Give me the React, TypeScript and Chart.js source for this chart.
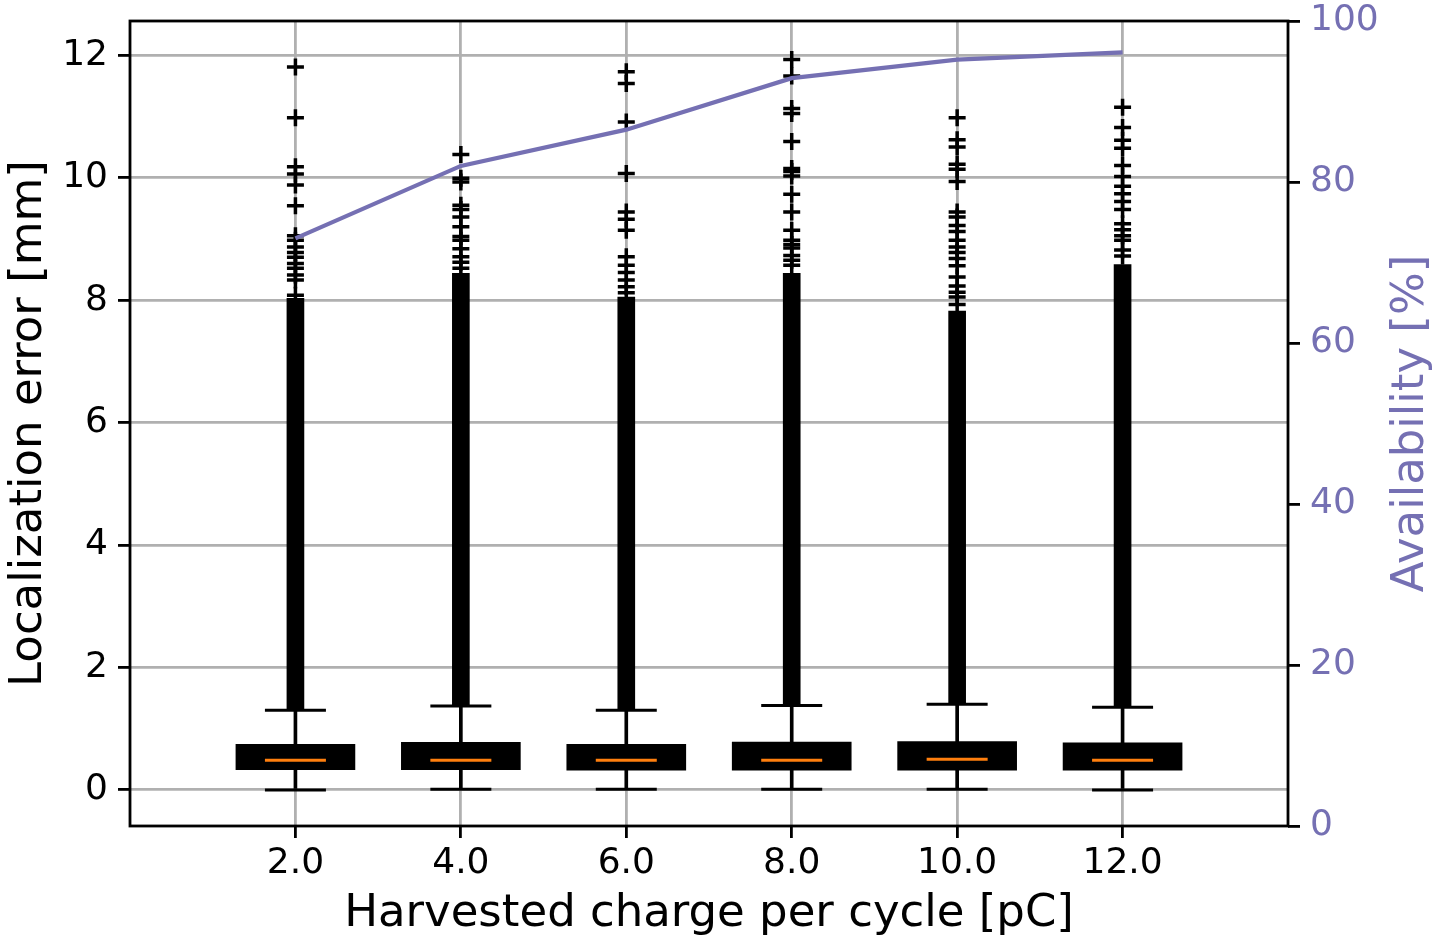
import { useEffect, useRef } from 'react';
import Chart from 'chart.js/auto';

// harvested charge per cycle [pC]
const charges = [2, 4, 6, 8, 10, 12];

// box plot stats, localization error [mm]
const whiskerLow = [0.0, 0.01, 0.01, 0.01, 0.01, 0.0];
const q1 = [0.33, 0.33, 0.32, 0.32, 0.32, 0.32];
const medians = [0.485, 0.485, 0.485, 0.485, 0.5, 0.485];
const q3 = [0.745, 0.775, 0.746, 0.78, 0.79, 0.77];
const whiskerHigh = [1.3, 1.37, 1.3, 1.38, 1.4, 1.35];

// outliers packed so tight they form a solid column
const denseOutlierTop = [8.03, 8.44, 8.05, 8.44, 7.82, 8.58];

// single outliers above the packed column
const outliers2 = [11.81, 10.98, 10.18, 10.06, 9.88, 9.54, 9.05, 8.98, 8.87, 8.78, 8.7, 8.6, 8.52, 8.41, 8.33, 8.08];
const outliers4 = [10.38, 9.99, 9.93, 9.55, 9.48, 9.36, 9.2, 9.04, 8.98, 8.84, 8.71, 8.62, 8.52];
const outliers6 = [11.73, 11.54, 10.91, 10.07, 9.44, 9.32, 9.14, 8.71, 8.57, 8.45, 8.33, 8.22, 8.12];
const outliers8 = [11.93, 11.66, 11.13, 11.05, 10.59, 10.15, 10.1, 10.03, 9.73, 9.44, 9.14, 8.98, 8.91, 8.85, 8.73, 8.65, 8.57];
const outliers10 = [10.98, 10.62, 10.5, 10.22, 10.14, 9.94, 9.44, 9.36, 9.22, 9.12, 8.98, 8.87, 8.78, 8.68, 8.56, 8.38, 8.23, 8.13, 8.05, 7.93];
const outliers12 = [11.15, 10.82, 10.61, 10.48, 10.2, 10.02, 9.86, 9.74, 9.61, 9.48, 9.25, 9.15, 9.05, 8.98, 8.82, 8.72];
const outliers = [outliers2, outliers4, outliers6, outliers8, outliers10, outliers12];

// availability [%]
const availability = [73.0, 82.0, 86.5, 92.9, 95.2, 96.1];

const xTicks = [2, 4, 6, 8, 10, 12];
const yTicks = [0, 2, 4, 6, 8, 10, 12];
const y1Ticks = [0, 20, 40, 60, 80, 100];

const PURPLE = '#7570b3';
const FONT = 'DejaVu Sans';
const LW = 2.8;
const RIGHT_TITLE = 'Availability [%]';

// axes frame + right axis title (chart.js would draw it rotated the other way)
const framePlugin = {
  id: 'frame',
  afterDraw(chart) {
    const { ctx, chartArea: a } = chart;
    ctx.save();
    ctx.strokeStyle = '#000';
    ctx.lineWidth = LW;
    ctx.strokeRect(a.left, a.top, a.right - a.left, a.bottom - a.top);
    ctx.translate(chart.width - 27, (a.top + a.bottom) / 2);
    ctx.rotate(-Math.PI / 2);
    ctx.font = `45px "${FONT}"`;
    ctx.fillStyle = PURPLE;
    ctx.textAlign = 'center';
    ctx.textBaseline = 'middle';
    ctx.fillText(RIGHT_TITLE, 0, 0);
    ctx.restore();
  },
};

const App = () => {
  const chartRef = useRef(null);
  const chartInstance = useRef(null);

  useEffect(() => {
    document.body.style.margin = '0';
    if (chartInstance.current) {
      chartInstance.current.destroy();
    }
    const ctx = chartRef.current.getContext('2d');

    const tickFont = { family: FONT, size: 36 };
    const yTickFont = { family: FONT, size: 36, lineHeight: 0.55 };
    const titleFont = { family: FONT, size: 45 };

    chartInstance.current = new Chart(ctx, {
      type: 'bar',
      data: {
        datasets: [
          {
            type: 'line',
            data: charges.map((c, i) => ({ x: c, y: availability[i] })),
            yAxisID: 'y1',
            borderColor: PURPLE,
            borderWidth: 4.2,
            pointRadius: 0,
            order: 0,
          },
          {
            type: 'scatter',
            data: charges.map((c, i) => ({ x: c, y: medians[i] })),
            yAxisID: 'y',
            pointStyle: 'line',
            pointRadius: 30.5,
            borderColor: '#ff7f0e',
            borderWidth: 3,
            order: 1,
          },
          {
            type: 'scatter',
            data: charges.flatMap((c, i) => outliers[i].map((v) => ({ x: c, y: v }))),
            yAxisID: 'y',
            pointStyle: 'cross',
            pointRadius: 8.5,
            borderColor: '#000',
            borderWidth: 3.5,
            order: 2,
          },
          {
            type: 'scatter',
            data: charges.flatMap((c, i) => [
              { x: c, y: whiskerLow[i] },
              { x: c, y: whiskerHigh[i] },
            ]),
            yAxisID: 'y',
            pointStyle: 'line',
            pointRadius: 30.5,
            borderColor: '#000',
            borderWidth: 3,
            order: 3,
          },
          {
            type: 'bar',
            data: charges.map((c, i) => ({ x: c, y: [whiskerHigh[i], denseOutlierTop[i]] })),
            yAxisID: 'y',
            backgroundColor: '#000',
            barThickness: 17,
            grouped: false,
            order: 4,
          },
          {
            type: 'bar',
            data: charges.map((c, i) => ({ x: c, y: [q1[i], q3[i]] })),
            yAxisID: 'y',
            backgroundColor: '#000',
            barThickness: 119,
            grouped: false,
            order: 5,
          },
          {
            type: 'bar',
            data: charges.map((c, i) => ({ x: c, y: [whiskerLow[i], whiskerHigh[i]] })),
            yAxisID: 'y',
            backgroundColor: '#000',
            barThickness: 3,
            grouped: false,
            order: 6,
          },
        ],
      },
      options: {
        responsive: true,
        maintainAspectRatio: false,
        animation: false,
        layout: { autoPadding: false, padding: { top: 21, left: 0, right: 0, bottom: 0 } },
        plugins: {
          legend: { display: false },
          tooltip: { enabled: false },
        },
        scales: {
          x: {
            type: 'linear',
            min: 0,
            max: 14,
            offset: false,
            afterBuildTicks: (axis) => {
              axis.ticks = xTicks.map((v) => ({ value: v }));
            },
            afterFit: (axis) => {
              axis.height = 115;
            },
            ticks: {
              font: tickFont,
              color: '#000',
              padding: 4,
              maxRotation: 0,
              callback: (v) => Number(v).toFixed(1),
            },
            grid: {
              offset: false,
              color: '#b0b0b0',
              lineWidth: LW,
              tickColor: '#000',
              tickLength: 12,
              tickWidth: LW,
            },
            border: { display: false },
            title: {
              display: true,
              text: 'Harvested charge per cycle [pC]',
              font: titleFont,
              color: '#000',
              padding: { top: 0, bottom: 0 },
            },
          },
          y: {
            type: 'linear',
            position: 'left',
            min: -0.59,
            max: 12.56,
            afterBuildTicks: (axis) => {
              axis.ticks = yTicks.map((v) => ({ value: v }));
            },
            afterFit: (axis) => {
              axis.width = 130;
            },
            ticks: {
              font: yTickFont,
              color: '#000',
              padding: 10,
              callback: (v) => String(v),
            },
            grid: {
              color: '#b0b0b0',
              lineWidth: LW,
              tickColor: '#000',
              tickLength: 12,
              tickWidth: LW,
            },
            border: { display: false },
            title: {
              display: true,
              text: 'Localization error [mm]',
              font: titleFont,
              color: '#000',
              padding: { top: 2, bottom: 0 },
            },
          },
          y1: {
            type: 'linear',
            position: 'right',
            min: 0,
            max: 100,
            afterBuildTicks: (axis) => {
              axis.ticks = y1Ticks.map((v) => ({ value: v }));
            },
            afterFit: (axis) => {
              axis.width = 150;
            },
            ticks: {
              font: yTickFont,
              color: PURPLE,
              padding: 10,
              callback: (v) => String(v),
            },
            grid: {
              drawOnChartArea: false,
              color: '#000',
              lineWidth: LW,
              tickLength: 12,
              tickWidth: LW,
            },
            border: { display: false },
          },
        },
      },
      plugins: [framePlugin],
    });

    return () => {
      if (chartInstance.current) {
        chartInstance.current.destroy();
        chartInstance.current = null;
      }
    };
  }, []);

  return (
    <div style={{ position: 'fixed', left: 0, top: 0, width: 1438, height: 941 }}>
      <canvas ref={chartRef}></canvas>
    </div>
  );
};

export default App;
